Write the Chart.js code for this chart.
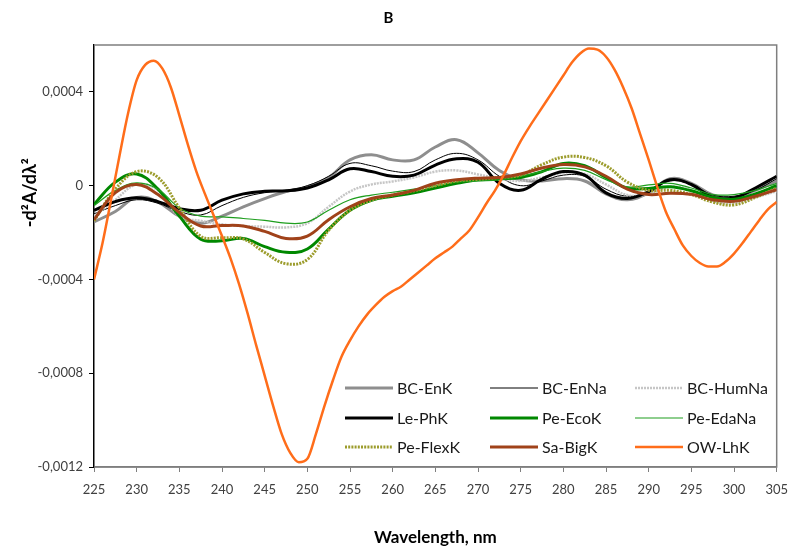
<!DOCTYPE html>
<html>
<head>
<meta charset="utf-8">
<script src="https://cdn.jsdelivr.net/npm/chart.js@4.4.1/dist/chart.umd.min.js"></script>
<style>
  html, body { margin: 0; padding: 0; background: #fff; }
</style>
</head>
<body>
<canvas id="chart" width="798" height="549"></canvas>
<script>
// Wavelength grid (nm) used by the eight small spectra
const wavelengths = [225, 227.5, 230, 232.5, 235, 237.5, 240, 242.5, 245, 247.5, 250, 252.5, 255, 257.5, 260,
    262.5, 265, 267.5, 270, 272.5, 275, 277.5, 280, 282.5, 285, 287.5, 290, 292.5, 295, 297.5, 300, 302.5, 305];

// OW-LhK is sampled every nm, it moves a lot faster
const wavelengthsOW = [225, 226, 227, 228, 229, 230, 231, 232, 233, 234, 235, 236, 237, 238, 239, 240, 241, 242,
    243, 244, 245, 246, 247, 248, 249, 250, 251, 252, 253, 254, 255, 256, 257, 258, 259, 260, 261, 262, 263, 264,
    265, 266, 267, 268, 269, 270, 271, 272, 273, 274, 275, 276, 277, 278, 279, 280, 281, 282, 283, 284, 285, 286,
    287, 288, 289, 290, 291, 292, 293, 294, 295, 296, 297, 298, 299, 300, 301, 302, 303, 304, 305];

const bcEnK = [-1.55e-4, -1.1e-4, -0.5e-4, -0.7e-4, -1.3e-4, -1.6e-4, -1.3e-4, -0.9e-4, -0.55e-4, -0.25e-4, -0.05e-4,
    0.35e-4, 1.1e-4, 1.32e-4, 1.1e-4, 1.1e-4, 1.65e-4, 1.96e-4, 1.4e-4, 0.65e-4, 0.25e-4, 0.2e-4, 0.3e-4, 0.2e-4,
    -0.35e-4, -0.6e-4, -0.3e-4, 0.3e-4, 0.1e-4, -0.4e-4, -0.5e-4, -0.2e-4, 0.2e-4];
const bcEnNa = [-1.2e-4, -0.85e-4, -0.6e-4, -0.75e-4, -1.1e-4, -1.25e-4, -0.85e-4, -0.5e-4, -0.3e-4, -0.2e-4, 0,
    0.4e-4, 0.95e-4, 0.85e-4, 0.62e-4, 0.6e-4, 1.1e-4, 1.38e-4, 1.1e-4, 0.4e-4, 0, 0.2e-4, 0.45e-4, 0.4e-4,
    -0.15e-4, -0.45e-4, -0.25e-4, 0.2e-4, 0.05e-4, -0.4e-4, -0.45e-4, -0.2e-4, 0.3e-4];
const bcHumNa = [-1.3e-4, -0.6e-4, 0.05e-4, -0.2e-4, -1.3e-4, -1.5e-4, -1.65e-4, -1.72e-4, -1.75e-4, -1.78e-4, -1.6e-4,
    -0.9e-4, -0.25e-4, 0.05e-4, 0.18e-4, 0.35e-4, 0.6e-4, 0.65e-4, 0.48e-4, 0.3e-4, 0.2e-4, 0.35e-4, 0.55e-4, 0.5e-4,
    0.05e-4, -0.4e-4, -0.35e-4, -0.05e-4, -0.2e-4, -0.65e-4, -0.74e-4, -0.5e-4, -0.24e-4];
const lePhK = [-1.05e-4, -0.68e-4, -0.52e-4, -0.68e-4, -0.98e-4, -1.05e-4, -0.62e-4, -0.35e-4, -0.24e-4, -0.22e-4, -0.1e-4,
    0.25e-4, 0.72e-4, 0.6e-4, 0.4e-4, 0.45e-4, 0.88e-4, 1.15e-4, 1.0e-4, 0.1e-4, -0.2e-4, 0.28e-4, 0.6e-4, 0.45e-4,
    -0.31e-4, -0.55e-4, -0.25e-4, 0.25e-4, 0.05e-4, -0.5e-4, -0.52e-4, -0.1e-4, 0.4e-4];
const peEcoK = [-0.8e-4, 0.15e-4, 0.5e-4, -0.15e-4, -1.3e-4, -2.28e-4, -2.35e-4, -2.25e-4, -2.6e-4, -2.84e-4, -2.7e-4,
    -1.85e-4, -1.05e-4, -0.62e-4, -0.45e-4, -0.3e-4, -0.1e-4, 0.1e-4, 0.25e-4, 0.3e-4, 0.35e-4, 0.6e-4, 0.95e-4, 0.85e-4,
    0.35e-4, -0.1e-4, -0.12e-4, -0.05e-4, -0.22e-4, -0.5e-4, -0.58e-4, -0.35e-4, 0];
const peEdaNa = [-0.85e-4, -0.2e-4, 0.12e-4, -0.15e-4, -0.95e-4, -1.3e-4, -1.33e-4, -1.4e-4, -1.48e-4, -1.6e-4, -1.55e-4,
    -1.05e-4, -0.6e-4, -0.4e-4, -0.28e-4, -0.15e-4, 0, 0.15e-4, 0.2e-4, 0.25e-4, 0.4e-4, 0.6e-4, 0.75e-4, 0.65e-4,
    0.26e-4, -0.05e-4, 0.03e-4, 0.1e-4, -0.1e-4, -0.38e-4, -0.38e-4, -0.2e-4, 0.1e-4];
const peFlexK = [-1.5e-4, -0.15e-4, 0.6e-4, 0.35e-4, -0.95e-4, -2.16e-4, -2.22e-4, -2.27e-4, -2.85e-4, -3.33e-4, -3.15e-4,
    -1.9e-4, -1.05e-4, -0.62e-4, -0.4e-4, -0.22e-4, 0, 0.2e-4, 0.27e-4, 0.35e-4, 0.45e-4, 0.9e-4, 1.22e-4, 1.2e-4,
    0.85e-4, 0.15e-4, -0.2e-4, -0.2e-4, -0.38e-4, -0.7e-4, -0.82e-4, -0.5e-4, -0.1e-4];
const saBigK = [-1.45e-4, -0.3e-4, 0.05e-4, -0.38e-4, -1.15e-4, -1.72e-4, -1.7e-4, -1.72e-4, -1.95e-4, -2.25e-4, -2.15e-4,
    -1.45e-4, -0.9e-4, -0.55e-4, -0.4e-4, -0.2e-4, 0.1e-4, 0.25e-4, 0.32e-4, 0.35e-4, 0.5e-4, 0.75e-4, 0.9e-4, 0.8e-4,
    0.4e-4, -0.15e-4, -0.38e-4, -0.32e-4, -0.37e-4, -0.6e-4, -0.67e-4, -0.45e-4, -0.17e-4];
const owLhK = [-4.0e-4, -2.45e-4, -0.6e-4, 1.3e-4, 3.1e-4, 4.5e-4, 5.15e-4, 5.33e-4, 5.0e-4, 4.2e-4, 3.0e-4, 1.75e-4,
    0.6e-4, -0.35e-4, -1.25e-4, -2.15e-4, -3.1e-4, -4.2e-4, -5.45e-4, -6.8e-4, -8.1e-4, -9.4e-4, -10.6e-4, -11.4e-4,
    -11.8e-4, -11.65e-4, -10.6e-4, -9.4e-4, -8.3e-4, -7.3e-4, -6.6e-4, -6.0e-4, -5.5e-4, -5.1e-4, -4.75e-4, -4.5e-4,
    -4.3e-4, -4.0e-4, -3.7e-4, -3.4e-4, -3.1e-4, -2.85e-4, -2.6e-4, -2.25e-4, -1.9e-4, -1.35e-4, -0.75e-4, -0.2e-4,
    0.45e-4, 1.2e-4, 1.9e-4, 2.5e-4, 3.05e-4, 3.6e-4, 4.15e-4, 4.7e-4, 5.25e-4, 5.65e-4, 5.85e-4, 5.8e-4, 5.5e-4,
    4.95e-4, 4.2e-4, 3.3e-4, 2.2e-4, 1.1e-4, -0.05e-4, -1.1e-4, -1.85e-4, -2.55e-4, -3.0e-4, -3.3e-4, -3.45e-4,
    -3.45e-4, -3.25e-4, -2.9e-4, -2.45e-4, -1.95e-4, -1.45e-4, -1.0e-4, -0.7e-4];

const yTickValues = [-0.0012, -0.0008, -0.0004, 0, 0.0004];
const yTitle = '-d\u00B2A/d\u03BB\u00B2';
const xTitle = 'Wavelength, nm';

// series: label, x grid, values, style
const series = [
    { label: 'BC-EnK', x: wavelengths, y: bcEnK, color: '#8e8e8e', width: 3 },
    { label: 'BC-EnNa', x: wavelengths, y: bcEnNa, color: '#000000', width: 1 },
    { label: 'BC-HumNa', x: wavelengths, y: bcHumNa, color: '#c6c6c6', width: 2.5, dash: [2, 1] },
    { label: 'Le-PhK', x: wavelengths, y: lePhK, color: '#000000', width: 3 },
    { label: 'Pe-EcoK', x: wavelengths, y: peEcoK, color: '#008800', width: 3 },
    { label: 'Pe-EdaNa', x: wavelengths, y: peEdaNa, color: '#1e9e1e', width: 1.2 },
    { label: 'Pe-FlexK', x: wavelengths, y: peFlexK, color: '#9c9c2c', width: 3, dash: [2, 1.2] },
    { label: 'Sa-BigK', x: wavelengths, y: saBigK, color: '#a0421a', width: 3 },
    { label: 'OW-LhK', x: wavelengthsOW, y: owLhK, color: '#ff6d1a', width: 2.5, monotone: true }
];

const datasets = series.map((s, i) => ({
    label: s.label,
    data: s.x.map((x, j) => ({ x: x, y: s.y[j] })),
    borderColor: s.color,
    borderWidth: s.width,
    borderDash: s.dash || [],
    pointRadius: 0,
    tension: 0.4,
    cubicInterpolationMode: s.monotone ? 'monotone' : 'default',
    fill: false,
    order: series.length - i // last series on top, like the original
}));

const fontFamily = 'Lato, "Open Sans", sans-serif';

// grey frame on top, right and bottom of the plot
const framePlugin = {
    id: 'frame',
    beforeDatasetsDraw(chart) {
        const { ctx, chartArea: a } = chart;
        ctx.save();
        ctx.strokeStyle = '#7f7f7f';
        ctx.lineWidth = 1.5;
        ctx.beginPath();
        ctx.moveTo(a.left, a.top);
        ctx.lineTo(a.right, a.top);
        ctx.lineTo(a.right, a.bottom);
        ctx.lineTo(a.left, a.bottom);
        ctx.stroke();
        ctx.restore();
    }
};

// legend drawn inside the plot, 3 columns
const insideLegend = {
    id: 'insideLegend',
    afterDatasetsDraw(chart) {
        const ctx = chart.ctx;
        const colX = [345, 490, 635];
        const rowY = [388, 418, 447];
        const sampleLen = 48;
        ctx.save();
        ctx.font = '16px ' + fontFamily;
        ctx.textBaseline = 'middle';
        ctx.textAlign = 'left';
        chart.data.datasets.forEach((ds, i) => {
            const x = colX[i % 3];
            const y = rowY[Math.floor(i / 3)];
            ctx.strokeStyle = ds.borderColor;
            ctx.lineWidth = ds.borderWidth;
            ctx.setLineDash(ds.borderDash);
            ctx.beginPath();
            ctx.moveTo(x, y);
            ctx.lineTo(x + sampleLen, y);
            ctx.stroke();
            ctx.setLineDash([]);
            ctx.fillStyle = '#1a1a1a';
            ctx.fillText(ds.label, x + sampleLen + 4, y + 1);
        });
        ctx.restore();
    }
};

const yTitlePlugin = {
    id: 'yTitle',
    afterDraw(chart) {
        const { ctx, chartArea: a } = chart;
        ctx.save();
        ctx.translate(30, a.top + (a.bottom - a.top) * 0.35);
        ctx.rotate(-Math.PI / 2);
        ctx.font = 'bold 18px ' + fontFamily;
        ctx.fillStyle = '#000';
        ctx.textAlign = 'center';
        ctx.textBaseline = 'middle';
        ctx.fillText(yTitle, 0, 0);
        ctx.restore();
    }
};

new Chart(document.getElementById('chart'), {
    type: 'line',
    data: { datasets: datasets },
    plugins: [framePlugin, insideLegend, yTitlePlugin],
    options: {
        responsive: false,
        animation: false,
        layout: { padding: { left: 0, right: 21, top: 0, bottom: 0 } },
        plugins: {
            legend: { display: false },
            tooltip: { enabled: false },
            title: {
                display: true,
                text: 'B',
                color: '#000',
                font: { family: fontFamily, size: 15, weight: 'bold' },
                padding: { top: 9, bottom: 18 }
            }
        },
        scales: {
            x: {
                type: 'linear',
                min: 225,
                max: 305,
                afterFit: (scale) => { scale.height = 82; },
                ticks: {
                    stepSize: 5,
                    color: '#404040',
                    font: { family: fontFamily, size: 13 },
                    padding: 10,
                    maxRotation: 0
                },
                grid: { drawOnChartArea: false, drawTicks: true, tickLength: 5, color: '#7f7f7f' },
                border: { display: true, color: '#7f7f7f', width: 1.5 },
                title: {
                    display: true,
                    text: xTitle,
                    color: '#000',
                    font: { family: fontFamily, size: 17, weight: 'bold' },
                    padding: { top: 0, bottom: 1 }
                }
            },
            y: {
                type: 'linear',
                min: -0.0012,
                max: 0.0006,
                afterFit: (scale) => { scale.width = 94; },
                afterBuildTicks: (scale) => { scale.ticks = yTickValues.map(v => ({ value: v })); },
                ticks: {
                    color: '#404040',
                    font: { family: fontFamily, size: 13 },
                    padding: 6,
                    callback: (v) => String(v).replace('.', ',')
                },
                grid: { drawOnChartArea: false, drawTicks: true, tickLength: 5, color: '#000' },
                border: { display: true, color: '#000', width: 1.5 }
            }
        }
    }
});
</script>
</body>
</html>
